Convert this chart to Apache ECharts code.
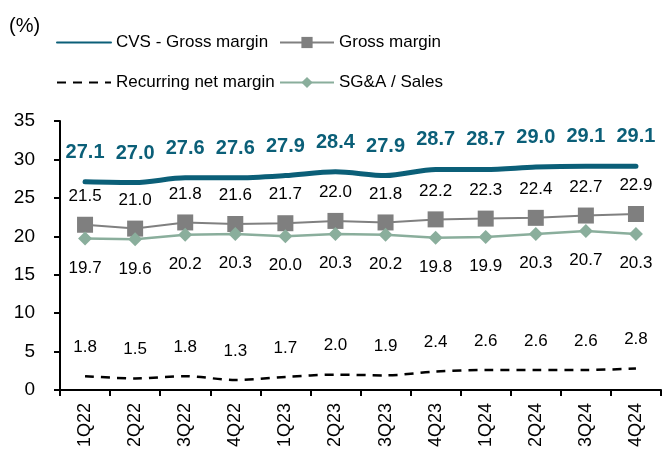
<!DOCTYPE html>
<html><head><meta charset="utf-8">
<script src="https://cdn.jsdelivr.net/npm/echarts@6/dist/echarts.min.js"></script>
<style>html,body{margin:0;padding:0;background:#fff}#c{width:662px;height:457px}</style>
</head><body><div id="c"></div>
<script>
var categories = ['1Q22','2Q22','3Q22','4Q22','1Q23','2Q23','3Q23','4Q23','1Q24','2Q24','3Q24','4Q24'];
var cvsGross = [27.1,27.0,27.6,27.6,27.9,28.4,27.9,28.7,28.7,29.0,29.1,29.1];
var grossMargin = [21.5,21.0,21.8,21.6,21.7,22.0,21.8,22.2,22.3,22.4,22.7,22.9];
var sgaSales = [19.7,19.6,20.2,20.3,20.0,20.3,20.2,19.8,19.9,20.3,20.7,20.3];
var netMargin = [1.8,1.5,1.8,1.3,1.7,2.0,1.9,2.4,2.6,2.6,2.6,2.8];
var yTicks = [0,5,10,15,20,25,30,35];

var FONT = '"Liberation Sans", Arial, sans-serif';
var chart = echarts.init(document.getElementById('c'));
var lbl = function(pos, extra){ return Object.assign({show:true, position:pos, distance:18, fontFamily:FONT, fontSize:17, color:'#000', formatter:function(p){return p.value.toFixed(1);}}, extra||{}); };
var legText = {fontFamily:FONT, fontSize:17, color:'#000'};
chart.setOption({
  animation:false,
  title:{text:'(%)', left:4, top:11, textStyle:{fontFamily:FONT, fontSize:20, fontWeight:'normal', color:'#000'}},
  legend:[
    {left:51, top:29, orient:'vertical', itemGap:23, itemWidth:54, itemHeight:14, textStyle:legText, data:['CVS - Gross margin','Recurring net margin']},
    {left:274, top:29, orient:'vertical', itemGap:23, itemWidth:54, itemHeight:14, textStyle:legText, data:['Gross margin','SG&A / Sales']}
  ],
  grid:{left:60, right:1, top:121, bottom:67, containLabel:false},
  xAxis:{type:'category', data:categories, boundaryGap:true,
    axisLine:{lineStyle:{color:'#000', width:2}},
    axisTick:{show:true, length:6, lineStyle:{color:'#000', width:2}},
    axisLabel:{rotate:90, fontFamily:FONT, fontSize:18, color:'#000', margin:13}},
  yAxis:{type:'value', min:0, max:35, interval:5,
    axisLine:{show:true, lineStyle:{color:'#000', width:2}},
    axisTick:{show:true, length:6, lineStyle:{color:'#000', width:2}},
    splitLine:{show:false},
    axisLabel:{fontFamily:FONT, fontSize:19, color:'#000', margin:25,
      formatter:function(v){return yTicks.indexOf(v)>=0?String(v):'';}}},
  series:[
    {name:'CVS - Gross margin', type:'line', data:cvsGross, smooth:0.3, symbol:'circle', symbolSize:1,
      lineStyle:{color:'#0b5f78', width:5, cap:'round'}, itemStyle:{color:'transparent'},
      label:lbl('top',{distance:19, fontSize:20, fontWeight:'bold', color:'#0b5f78'})},
    {name:'Gross margin', type:'line', data:grossMargin, symbol:'rect', symbolSize:16,
      lineStyle:{color:'#808080', width:2}, itemStyle:{color:'#7f7f7f'},
      label:lbl('top',{distance:12})},
    {name:'Recurring net margin', type:'line', data:netMargin, smooth:0.3, symbol:'circle', symbolSize:1,
      lineStyle:{color:'#000', width:2.5, type:[9,7]}, itemStyle:{color:'transparent'},
      label:lbl('top',{distance:20})},
    {name:'SG&A / Sales', type:'line', data:sgaSales, symbol:'diamond', symbolSize:14,
      lineStyle:{color:'#8aae9c', width:2.5}, itemStyle:{color:'#8aae9c'},
      label:lbl('bottom',{distance:14})}
  ]
});
</script></body></html>
